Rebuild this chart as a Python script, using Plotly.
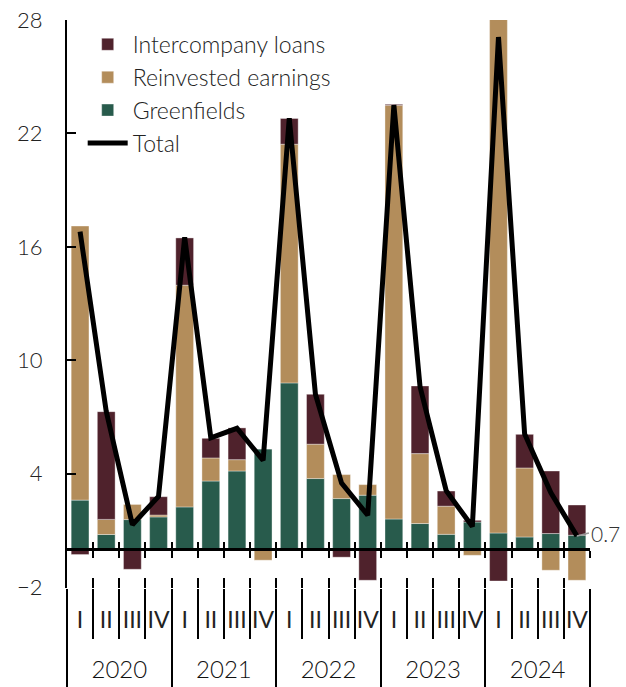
import plotly.graph_objects as go

# Quarterly FDI inflows by component
years = ["2020"] * 4 + ["2021"] * 4 + ["2022"] * 4 + ["2023"] * 4 + ["2024"] * 4
quarters = ["I", "II", "III", "IV"] * 5

greenfields = [2.60, 0.78, 1.57, 1.71,
               2.24, 3.61, 4.14, 5.31,
               8.80, 3.74, 2.68, 2.86,
               1.60, 1.36, 0.79, 1.44,
               0.86, 0.65, 0.83, 0.74]
reinvested = [14.50, 0.80, 0.80, 0.10,
              11.73, 1.22, 0.60, -0.58,
              12.63, 1.82, 1.27, 0.56,
              21.89, 3.70, 1.49, -0.32,
              27.92, 3.65, -1.11, -1.64]
intercompany = [-0.28, 5.70, -1.06, 0.97,
                2.50, 1.04, 1.68, 0.00,
                1.36, 2.64, -0.42, -1.64,
                0.05, 3.58, 0.80, 0.09,
                -1.68, 1.78, 3.31, 1.60]
total = [16.8, 7.3, 1.3, 2.8,
         16.5, 5.9, 6.4, 4.7,
         22.8, 8.2, 3.5, 1.8,
         23.5, 8.6, 3.1, 1.2,
         27.1, 6.1, 3.0, 0.7]

y_ticks = [-2, 4, 10, 16, 22, 28]
y_range = [-2.05, 28]

C_IC = "#4F222C"
C_RE = "#B38D5B"
C_GF = "#285B4C"
FONT = "Lato"
TXT = "#222222"

x = [years, quarters]
edge = dict(color="rgba(255,255,255,0.45)", width=0.8)
n = len(quarters)
x_span = [-0.5, n - 0.5]
positions = list(range(n))

# category boundaries: year edges get long separators, quarter edges short ones
year_edges = [-0.5] + [i - 0.5 for i in range(1, n) if years[i] != years[i - 1]] + [n - 0.5]
quarter_edges = [i + 0.5 for i in range(n - 1) if (i + 0.5) not in year_edges]
all_edges = [i + 0.5 for i in range(n)]
year_names = list(dict.fromkeys(years))
year_centers = [sum(i for i in positions if years[i] == yv) / years.count(yv) for yv in year_names]
zero_pos = (0 - y_range[0]) / (y_range[1] - y_range[0])

fig = go.Figure()
fig.add_bar(x=x, y=greenfields, name="Greenfields", marker=dict(color=C_GF, line=edge),
            legendrank=3)
fig.add_bar(x=x, y=reinvested, name="Reinvested earnings", marker=dict(color=C_RE, line=edge),
            legendrank=2)
fig.add_bar(x=x, y=intercompany, name="Intercompany loans", marker=dict(color=C_IC, line=edge),
            legendrank=1)
fig.add_scatter(x=x, y=total, name="Total", mode="lines",
                line=dict(color="black", width=5), legendrank=4)

# invisible helpers so the auxiliary axes get drawn
aux_names = ["x2", "x3", "x4", "x5", "x6", "x7", "x8"]
for ax_name in aux_names:
    fig.add_scatter(x=x_span, y=[0, 0], xaxis=ax_name, yaxis="y",
                    mode="lines", line=dict(width=0), opacity=0,
                    hoverinfo="skip", showlegend=False)

aux = dict(overlaying="x", range=x_span, tickmode="array",
           showticklabels=False, showgrid=False, zeroline=False, automargin=False,
           showline=False, tickwidth=2, tickcolor="black")
hidden_tick = "rgba(0,0,0,0)"

fig.update_layout(
    width=626, height=687,
    margin=dict(l=67, r=36, t=20, b=99, autoexpand=False),
    paper_bgcolor="white", plot_bgcolor="white",
    barmode="relative", bargap=0.32,
    font=dict(family=FONT, size=23, color=TXT, weight=300),
    showlegend=True,
    legend=dict(x=0.03, y=0.995, xanchor="left", yanchor="top",
                bgcolor="rgba(0,0,0,0)", font=dict(size=23, color=TXT),
                tracegroupgap=0, itemwidth=40),
    xaxis=dict(
        type="multicategory", automargin=False, range=x_span,
        showline=False, showgrid=False, zeroline=False,
        showticklabels=False, ticks="", showdividers=False,
    ),
    # short quarter separators below the plot
    xaxis2=dict(aux, anchor="y", tickvals=quarter_edges, ticks="outside", ticklen=50),
    # zero baseline with ticks crossing it
    xaxis3=dict(aux, anchor="free", position=zero_pos, tickvals=all_edges,
                ticks="outside", ticklen=7, showline=True, linecolor="black",
                linewidth=2.5, layer="above traces"),
    xaxis4=dict(aux, anchor="free", position=zero_pos, tickvals=all_edges,
                ticks="inside", ticklen=7, layer="above traces"),
    # long year separators
    xaxis5=dict(aux, anchor="y", tickvals=year_edges, ticks="outside", ticklen=100),
    # quarter labels
    xaxis6=dict(aux, anchor="y", tickvals=positions, ticktext=quarters,
                showticklabels=True, ticks="outside", ticklen=11, tickcolor=hidden_tick,
                tickangle=0, tickfont=dict(size=23, color=TXT, weight=400)),
    # year labels
    xaxis7=dict(aux, anchor="y", tickvals=year_centers, ticktext=year_names,
                showticklabels=True, ticks="outside", ticklen=60, tickcolor=hidden_tick,
                tickangle=0, tickfont=dict(size=24, color="#111111", weight=300)),
    # separators poke slightly up into the plot
    xaxis8=dict(aux, anchor="y", tickvals=all_edges, ticks="inside", ticklen=10),
    yaxis=dict(
        range=y_range, tickmode="array", tickvals=y_ticks, automargin=False,
        ticks="inside", ticklen=9, tickwidth=2, tickcolor="black",
        showline=True, linecolor="black", linewidth=2,
        showgrid=False, zeroline=False,
        tickfont=dict(size=22, color=TXT), ticklabelstandoff=18,
    ),
)

# value label for the latest quarter
fig.add_annotation(
    x=n - 1, y=total[-1], xref="x2", yref="y",
    text=f"{total[-1]:.1f}", showarrow=True, arrowhead=0, arrowwidth=1.5,
    arrowcolor="#9a9a9a", ax=12, ay=-3, xanchor="left", yanchor="middle",
    font=dict(size=21, color="#333333"),
)

fig.write_html("out.html")
